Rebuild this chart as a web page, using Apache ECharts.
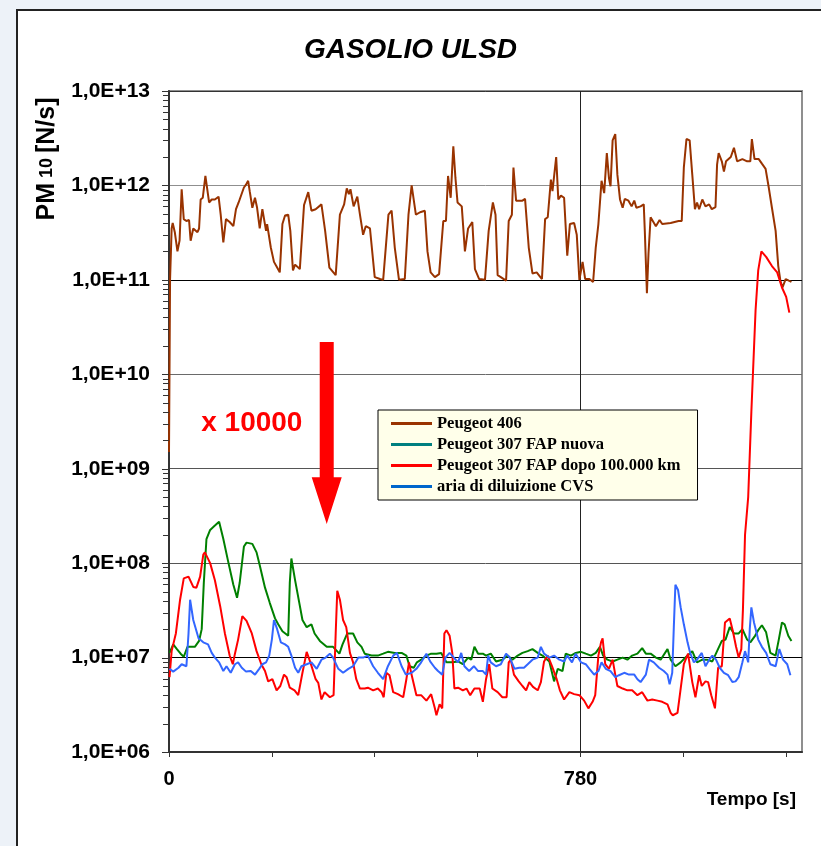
<!DOCTYPE html>
<html>
<head>
<meta charset="utf-8">
<script src="https://cdn.jsdelivr.net/npm/echarts@6.0.0/dist/echarts.min.js"></script>
<style>
html,body{margin:0;padding:0;width:821px;height:846px;overflow:hidden;background:#EDF2F8;}
#frame{position:absolute;left:16px;top:9px;width:830px;height:860px;background:#fff;border-left:2px solid #222;border-top:2px solid #222;}
#chart{position:absolute;left:0;top:0;width:821px;height:846px;}
</style>
</head>
<body>
<div id="frame"></div>
<div id="chart"></div>
<script>
// ---------------- data (time [s], PM10 [N/s]) ----------------
const seriesNames = ['Peugeot 406', 'Peugeot 307 FAP nuova', 'Peugeot 307 FAP dopo 100.000 km', 'aria di diluizione CVS'];

const peugeot406 = [[0,1.5e9],[2,1.0e11],[5,3.5e11],[7,4.0e11],[11,3.2e11],[16,2.0e11],[20,2.6e11],[24,9.1e11],[28,4.4e11],[33,4.2e11],[38,4.3e11],[41,2.6e11],[46,3.5e11],[54,3.2e11],[57,3.5e11],[60,7.1e11],[64,7.4e11],[69,1.26e12],[76,6.6e11],[81,7.1e11],[87,7.1e11],[94,7.6e11],[98,4.9e11],[103,2.5e11],[108,4.4e11],[115,4.1e11],[122,3.7e11],[127,5.6e11],[132,6.6e11],[134,7.1e11],[142,9.5e11],[146,1.02e12],[150,1.12e12],[153,8.7e11],[158,5.8e11],[163,7.4e11],[167,5.8e11],[172,3.5e11],[177,5.6e11],[184,3.3e11],[186,3.9e11],[193,2.2e11],[199,1.55e11],[205,1.35e11],[210,1.2e11],[215,3.9e11],[220,4.8e11],[226,4.9e11],[230,3.3e11],[235,1.26e11],[239,1.45e11],[248,1.3e11],[256,6.2e11],[264,8.5e11],[270,5.4e11],[278,5.6e11],[289,6.3e11],[296,3.3e11],[304,1.35e11],[316,1.12e11],[324,4.9e11],[332,6.3e11],[337,9.3e11],[341,8.1e11],[344,9.1e11],[350,6.0e11],[357,7.6e11],[362,4.9e11],[368,3.0e11],[373,3.7e11],[381,3.5e11],[390,1.07e11],[400,1.02e11],[406,1.0e11],[416,4.9e11],[422,5.4e11],[428,2.2e11],[436,1.0e11],[447,1.02e11],[454,4.9e11],[460,1.0e12],[468,4.9e11],[476,5.2e11],[485,5.4e11],[490,2.0e11],[496,1.2e11],[504,1.07e11],[512,1.15e11],[520,4.2e11],[525,4.2e11],[529,1.26e12],[534,7.4e11],[539,2.6e12],[543,1.2e12],[547,6.6e11],[555,6.0e11],[561,2.0e11],[567,3.5e11],[575,4.1e11],[580,1.3e11],[588,1.02e11],[599,1.0e11],[606,3.3e11],[614,6.6e11],[619,4.9e11],[623,1.12e11],[629,1.07e11],[639,9.8e10],[644,4.2e11],[650,4.9e11],[653,1.55e12],[658,6.9e11],[670,6.9e11],[675,7.2e11],[682,2.2e11],[689,1.17e11],[697,1.2e11],[707,1.02e11],[713,4.4e11],[718,4.6e11],[724,1.15e12],[727,8.7e11],[734,2.0e12],[738,7.1e11],[743,7.8e11],[749,7.4e11],[755,1.8e11],[760,3.9e11],[768,4.0e11],[773,3.0e11],[778,1.0e11],[784,1.55e11],[789,1.02e11],[797,1.02e11],[804,9.5e10],[809,2.2e11],[814,3.9e11],[820,1.12e12],[825,8.3e11],[830,2.2e12],[834,1.2e12],[837,9.8e11],[841,3.0e12],[846,3.5e12],[850,1.3e12],[855,7.1e11],[860,5.8e11],[864,7.2e11],[871,6.9e11],[877,6.0e11],[882,6.9e11],[886,5.8e11],[894,6.0e11],[900,6.3e11],[902,3.3e11],[906,7.2e10],[909,1.9e11],[913,4.6e11],[923,3.7e11],[930,4.3e11],[935,3.9e11],[951,4.0e11],[966,4.2e11],[972,4.2e11],[976,1.55e12],[981,3.1e12],[987,3.0e12],[992,1.3e12],[997,5.6e11],[1001,6.6e11],[1005,5.6e11],[1011,7.1e11],[1017,6.0e11],[1024,6.3e11],[1029,5.6e11],[1036,5.9e11],[1039,1.66e12],[1042,2.2e12],[1048,1.8e12],[1052,1.4e12],[1056,1.8e12],[1065,2.0e12],[1071,2.5e12],[1077,1.8e12],[1087,1.9e12],[1096,1.8e12],[1102,1.8e12],[1105,3.1e12],[1110,1.9e12],[1118,1.9e12],[1124,1.7e12],[1131,1.5e12],[1137,9.5e11],[1143,5.8e11],[1150,3.3e11],[1155,1.4e11],[1159,9.8e10],[1163,8.3e10],[1169,1.02e11],[1175,9.8e10],[1180,9.5e10]];

const fapNuova = [[1,1.12e7],[8,1.38e7],[15,1.23e7],[22,1.1e7],[28,1.02e7],[35,1.3e7],[43,1.3e7],[49,1.3e7],[57,1.5e7],[62,2.0e7],[66,6.2e7],[71,1.8e8],[78,2.25e8],[87,2.5e8],[95,2.75e8],[103,1.8e8],[112,1.05e8],[122,5.9e7],[129,4.3e7],[134,6.2e7],[142,1.5e8],[147,1.65e8],[158,1.6e8],[166,1.3e8],[172,9.5e7],[182,5.5e7],[191,3.8e7],[201,2.6e7],[207,2.25e7],[215,1.9e7],[226,1.7e7],[229,6.2e7],[232,1.12e8],[239,6.6e7],[247,3.8e7],[253,2.5e7],[261,2.1e7],[270,2.25e7],[276,1.8e7],[286,1.5e7],[299,1.3e7],[311,1.3e7],[323,1.1e7],[329,1.38e7],[338,1.8e7],[349,1.8e7],[357,1.45e7],[365,1.3e7],[371,1.1e7],[384,1.05e7],[396,1.05e7],[406,1.1e7],[415,1.15e7],[428,1.12e7],[441,1.12e7],[450,1.05e7],[456,8.1e6],[464,7.8e6],[470,8.9e6],[478,9.5e6],[488,1.05e7],[497,1.1e7],[507,1.1e7],[516,1.12e7],[526,8.9e6],[537,8.9e6],[548,9.1e6],[557,8.5e6],[567,1.0e7],[573,9.5e6],[579,1.3e7],[586,1.1e7],[595,1.1e7],[601,1.05e7],[610,1.1e7],[620,9.1e6],[632,9.5e6],[642,1.05e7],[651,9.5e6],[661,1.05e7],[670,1.12e7],[680,1.17e7],[689,1.23e7],[699,1.12e7],[708,1.05e7],[721,9.1e6],[730,5.6e6],[737,7.6e6],[746,7.2e6],[752,1.1e7],[762,1.05e7],[771,1.12e7],[781,1.15e7],[790,1.1e7],[800,1.05e7],[809,1.12e7],[817,1.3e7],[823,1.05e7],[831,9.5e6],[841,9.1e6],[850,9.5e6],[860,1.0e7],[869,9.5e6],[878,1.05e7],[888,1.1e7],[897,1.26e7],[904,1.1e7],[913,1.1e7],[923,1.0e7],[932,9.5e6],[945,1.23e7],[951,9.5e6],[960,8.1e6],[970,8.9e6],[979,1.0e7],[992,1.17e7],[1001,8.9e6],[1011,9.5e6],[1020,9.5e6],[1030,9.1e6],[1039,1.17e7],[1048,1.5e7],[1055,1.55e7],[1063,2.1e7],[1071,1.8e7],[1080,1.8e7],[1087,2.0e7],[1096,1.55e7],[1102,1.45e7],[1111,1.7e7],[1117,1.95e7],[1124,2.2e7],[1132,1.85e7],[1140,1.12e7],[1150,1.05e7],[1156,1.55e7],[1162,2.35e7],[1167,2.25e7],[1174,1.7e7],[1180,1.5e7]];

const fapDopo = [[1,6.2e6],[5,1.17e7],[13,1.8e7],[21,4.1e7],[28,6.9e7],[37,7.2e7],[46,5.6e7],[52,5.5e7],[59,7.2e7],[65,1.23e8],[68,1.3e8],[78,1.0e8],[87,6.6e7],[97,3.5e7],[106,1.8e7],[115,1.05e7],[121,8.5e6],[125,1.1e7],[131,1.55e7],[139,2.75e7],[147,2.45e7],[157,1.8e7],[166,1.17e7],[175,8.5e6],[182,7.2e6],[188,5.6e6],[196,5.9e6],[204,4.5e6],[211,5.0e6],[218,6.6e6],[223,6.2e6],[229,4.8e6],[238,4.5e6],[245,4.0e6],[253,6.9e6],[261,1.15e7],[268,8.9e6],[278,5.9e6],[283,5.4e6],[289,3.6e6],[295,4.3e6],[305,3.8e6],[312,4.0e6],[316,1.8e7],[319,5.1e7],[324,4.1e7],[330,2.5e7],[336,2.1e7],[343,1.12e7],[349,8.9e6],[355,5.9e6],[362,4.7e6],[371,4.7e6],[377,4.8e6],[387,4.5e6],[396,4.7e6],[403,4.3e6],[407,3.8e6],[412,6.9e6],[418,6.5e6],[425,4.3e6],[434,4.1e6],[444,3.8e6],[450,5.9e6],[455,8.9e6],[459,6.9e6],[469,4.0e6],[478,4.0e6],[488,3.5e6],[497,4.1e6],[504,2.9e6],[507,2.45e6],[513,3.2e6],[518,2.9e6],[522,1.8e7],[526,1.95e7],[532,1.7e7],[537,1.12e7],[541,4.7e6],[548,4.8e6],[557,4.5e6],[564,4.7e6],[571,4.0e6],[579,4.7e6],[589,4.7e6],[595,3.4e6],[601,5.9e6],[607,8.5e6],[613,4.7e6],[623,4.3e6],[632,3.8e6],[640,3.8e6],[644,8.9e6],[648,9.5e6],[654,6.6e6],[663,5.6e6],[670,5.0e6],[677,4.5e6],[683,5.5e6],[690,4.9e6],[699,4.5e6],[705,5.5e6],[711,9.1e6],[718,1.05e7],[726,8.1e6],[735,5.9e6],[741,4.5e6],[749,3.6e6],[759,4.3e6],[768,4.1e6],[778,4.0e6],[787,3.5e6],[795,2.9e6],[803,3.4e6],[808,4.0e6],[814,1.05e7],[819,1.45e7],[822,1.6e7],[827,8.5e6],[834,7.6e6],[841,9.5e6],[846,6.6e6],[850,5.0e6],[860,4.7e6],[869,4.5e6],[878,4.5e6],[888,4.0e6],[897,4.3e6],[907,3.5e6],[916,3.6e6],[926,3.5e6],[935,3.4e6],[945,3.2e6],[951,2.6e6],[955,2.45e6],[964,2.6e6],[970,4.7e6],[976,8.5e6],[984,1.1e7],[992,5.5e6],[998,3.8e6],[1005,6.5e6],[1010,5.0e6],[1017,5.6e6],[1022,5.5e6],[1028,4.0e6],[1035,2.9e6],[1041,7.8e6],[1048,8.1e6],[1054,2.35e7],[1063,2.6e7],[1069,1.9e7],[1075,1.3e7],[1080,1.0e7],[1085,1.23e7],[1088,3.2e7],[1092,2.0e8],[1098,5.0e8],[1104,4.0e9],[1112,4.8e10],[1117,1.26e11],[1123,2.0e11],[1132,1.75e11],[1143,1.4e11],[1153,1.2e11],[1162,8.3e10],[1170,6.6e10],[1176,4.5e10]];

const ariaCVS = [[1,7.6e6],[8,7.1e6],[18,7.8e6],[24,8.5e6],[33,8.1e6],[37,1.8e7],[40,4.1e7],[46,2.5e7],[56,1.6e7],[65,1.45e7],[74,1.38e7],[81,1.12e7],[87,1.0e7],[95,8.9e6],[103,7.2e6],[109,8.1e6],[117,6.9e6],[125,8.5e6],[131,8.9e6],[138,7.8e6],[146,7.1e6],[155,7.2e6],[163,6.6e6],[171,7.6e6],[177,8.5e6],[184,8.9e6],[190,1.05e7],[195,1.55e7],[199,2.5e7],[205,2.0e7],[212,1.45e7],[220,1.38e7],[226,1.3e7],[232,1.05e7],[239,7.8e6],[245,6.9e6],[251,8.1e6],[261,8.5e6],[270,8.9e6],[280,7.6e6],[289,9.5e6],[297,1.0e7],[305,1.1e7],[311,1.0e7],[321,7.6e6],[330,6.9e6],[340,7.6e6],[349,8.1e6],[359,1.0e7],[368,1.0e7],[377,1.05e7],[387,8.1e6],[396,6.9e6],[406,5.9e6],[415,8.1e6],[425,1.05e7],[432,1.12e7],[441,8.1e6],[449,6.6e6],[460,6.9e6],[469,7.6e6],[478,8.9e6],[488,1.1e7],[495,9.1e6],[504,7.8e6],[510,7.2e6],[518,6.6e6],[524,1.0e7],[532,1.12e7],[540,1.0e7],[548,8.9e6],[554,1.12e7],[560,8.1e6],[569,7.2e6],[578,8.1e6],[586,7.2e6],[595,7.2e6],[601,6.6e6],[605,1.05e7],[610,8.9e6],[620,8.1e6],[629,8.5e6],[639,1.1e7],[646,1.0e7],[655,7.6e6],[664,7.8e6],[673,7.8e6],[680,8.5e6],[689,9.5e6],[699,1.0e7],[705,1.3e7],[711,1.1e7],[721,1.0e7],[730,1.05e7],[740,9.5e6],[749,9.1e6],[755,1.05e7],[764,8.9e6],[771,1.1e7],[781,8.9e6],[790,8.5e6],[797,7.6e6],[806,6.6e6],[814,7.2e6],[820,8.9e6],[828,7.6e6],[837,7.2e6],[846,6.2e6],[853,6.5e6],[863,6.9e6],[872,6.6e6],[882,6.6e6],[888,5.9e6],[894,5.5e6],[904,6.6e6],[910,9.5e6],[919,8.9e6],[929,7.8e6],[938,7.2e6],[945,6.6e6],[949,5.2e6],[954,6.9e6],[957,2.1e7],[960,5.9e7],[965,5.2e7],[970,3.4e7],[976,2.25e7],[983,1.45e7],[988,1.12e7],[995,8.9e6],[1001,9.5e6],[1010,1.12e7],[1017,8.1e6],[1024,9.5e6],[1030,1.05e7],[1037,9.5e6],[1044,7.8e6],[1052,6.9e6],[1060,6.5e6],[1068,5.5e6],[1074,5.6e6],[1080,6.2e6],[1087,8.9e6],[1092,1.17e7],[1098,8.9e6],[1101,2.0e7],[1104,3.4e7],[1109,2.35e7],[1117,1.55e7],[1124,1.3e7],[1132,1.12e7],[1140,8.5e6],[1150,8.1e6],[1157,1.23e7],[1164,9.5e6],[1172,8.5e6],[1178,6.5e6]];

// axis ticks / labels
const xTickValues = [0, 195, 390, 585, 780, 975, 1170];
const xLabelValues = [0, 780];
const yDecades = [1e6, 1e7, 1e8, 1e9, 1e10, 1e11, 1e12, 1e13];
const yMinorSteps = [2, 3, 4, 5, 6, 7, 8, 9];

// annotation anchors (data coordinates)
const arrowTime = 299;
const arrowTopValue = 2.2e10, arrowHeadBaseValue = 8.1e8, arrowTipValue = 2.6e8;
const factorLabel = { text: 'x 10000', time: 157, value: 3.0e9 };

// ---------------- chart ----------------
const FONT = '"Liberation Sans", Arial, Helvetica, sans-serif';
const SERIF = '"Liberation Serif", "Times New Roman", Times, serif';
const colors = ['#993300', '#008000', '#FF0000', '#3366FF'];
const legendColors = ['#993300', '#008080', '#FF0000', '#0066CC'];

const chart = echarts.init(document.getElementById('chart'), null, { renderer: 'canvas' });

const seriesData = [peugeot406, fapNuova, fapDopo, ariaCVS];

const option = {
  animation: false,
  backgroundColor: 'transparent',
  title: {
    text: 'GASOLIO ULSD', left: 'center', top: 31,
    textStyle: { fontFamily: FONT, fontSize: 28, fontWeight: 'bold', fontStyle: 'italic', color: '#000' }
  },
  grid: { left: 169, right: 19, top: 91, bottom: 94, show: true, backgroundColor: '#fff', borderColor: '#8f8f8f', borderWidth: 2 },
  legend: {
    orient: 'vertical', left: 378, top: 410,
    padding: [3, 17, 3, 13], itemGap: 0, itemWidth: 41, itemHeight: 3, icon: 'rect',
    backgroundColor: '#FFFFEA', borderColor: '#000', borderWidth: 1, borderRadius: 0,
    selectedMode: false,
    textStyle: { fontFamily: SERIF, fontSize: 16.5, fontWeight: 'bold', color: '#000', lineHeight: 21 },
    data: seriesNames.map((n, i) => ({ name: n, itemStyle: { color: legendColors[i] } }))
  },
  xAxis: {
    type: 'value', min: 0, max: 1200, position: 'bottom',
    axisLine: { show: true, onZero: false, lineStyle: { color: '#333', width: 2 } },
    axisTick: { show: true, customValues: xTickValues, length: 5, lineStyle: { color: '#333', width: 1 } },
    axisLabel: { customValues: xLabelValues, margin: 17, fontFamily: FONT, fontSize: 20, fontWeight: 'bold', color: '#000' },
    splitLine: { show: false }
  },
  yAxis: {
    type: 'log', logBase: 10, min: yDecades[0], max: yDecades[yDecades.length - 1], position: 'left',
    axisLine: { show: true, onZero: false, lineStyle: { color: '#333', width: 2 } },
    axisTick: { show: false },
    axisLabel: {
      margin: 19, fontFamily: FONT, fontSize: 21, fontWeight: 'bold', color: '#000',
      formatter: v => '1,0E+' + String(Math.round(Math.log10(v))).padStart(2, '0')
    },
    splitLine: { show: true, lineStyle: { color: ['#333', '#000', '#000', '#555', '#555', '#6a6a6a', '#000', '#8f8f8f'], width: 1 } }
  },
  series: seriesNames.map((n, i) => ({
    name: n, type: 'line', data: seriesData[i],
    showSymbol: false, symbol: 'none', smooth: false, z: 3 + i,
    lineStyle: { color: colors[i], width: 2 }, itemStyle: { color: colors[i] }
  })).concat([{
    // helper series carrying the vertical grid line at 780 s
    name: 'grid780', type: 'line', data: [], z: 1,
    markLine: {
      silent: true, symbol: ['none', 'none'], z: 1, label: { show: false },
      lineStyle: { color: '#222', width: 1, type: 'solid' },
      data: [{ xAxis: xLabelValues[1] }]
    }
  }])
};
chart.setOption(option);

const toPx = (t, v) => chart.convertToPixel({ xAxisIndex: 0, yAxisIndex: 0 }, [t, v]);
const pTop = toPx(arrowTime, arrowTopValue), pBase = toPx(arrowTime, arrowHeadBaseValue), pTip = toPx(arrowTime, arrowTipValue);
const sw = 7, hw = 15;
const pLab = toPx(factorLabel.time, factorLabel.value);

// y-axis major/minor tick marks, positioned through the log scale
const tickEls = [];
yDecades.forEach((d, i) => {
  const p = toPx(0, d);
  const y = Math.round(p[1]) + 0.5;
  tickEls.push({ type: 'line', z: 50, silent: true, shape: { x1: p[0] - 7, y1: y, x2: p[0], y2: y }, style: { stroke: '#333', lineWidth: 1 } });
  if (i < yDecades.length - 1) {
    yMinorSteps.forEach(s => {
      const q = toPx(0, d * s);
      const yy = Math.round(q[1]) + 0.5;
      tickEls.push({ type: 'line', z: 50, silent: true, shape: { x1: q[0] - 6, y1: yy, x2: q[0], y2: yy }, style: { stroke: '#333', lineWidth: 1 } });
    });
  }
});

chart.setOption({
  graphic: tickEls.concat([
    {
      type: 'polygon', z: 100,
      shape: { points: [[pTop[0] - sw, pTop[1]], [pTop[0] + sw, pTop[1]], [pBase[0] + sw, pBase[1]], [pBase[0] + hw, pBase[1]], [pTip[0], pTip[1]], [pBase[0] - hw, pBase[1]], [pBase[0] - sw, pBase[1]]] },
      style: { fill: '#FF0000' }
    },
    {
      type: 'text', z: 100, x: pLab[0], y: pLab[1],
      style: { text: factorLabel.text, fill: '#FF0000', font: 'bold 28px ' + FONT, textAlign: 'center', textVerticalAlign: 'middle' }
    },
    {
      type: 'text', z: 100, x: 47, y: 159, rotation: Math.PI / 2,
      style: {
        text: '{a|PM}{b| 10 }{a|[N/s]}', textAlign: 'center', textVerticalAlign: 'middle',
        rich: {
          a: { fontFamily: FONT, fontSize: 25, fontWeight: 'bold', fill: '#000', color: '#000' },
          b: { fontFamily: FONT, fontSize: 18, fontWeight: 'bold', fill: '#000', color: '#000' }
        }
      }
    },
    {
      type: 'text', z: 100, x: 796, y: 800,
      style: { text: 'Tempo [s]', fill: '#000', font: 'bold 19px ' + FONT, textAlign: 'right', textVerticalAlign: 'middle' }
    }
  ])
});
</script>
</body>
</html>
